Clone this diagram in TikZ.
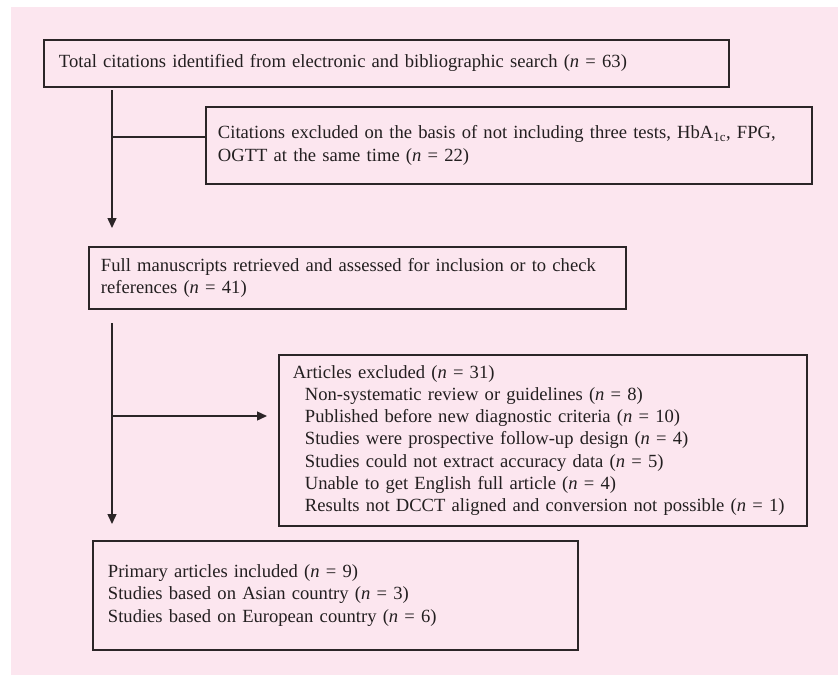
\documentclass[tikz,border=0pt]{standalone}
\usepackage{fontspec}
\setmainfont{Liberation Serif}
\usetikzlibrary{arrows.meta, positioning, calc}
\definecolor{inkpink}{HTML}{FCE6EF}
\definecolor{inkline}{HTML}{2B2527}
\definecolor{inktext}{HTML}{231F20}
\newcommand{\flowbox}[6]{%
  \node[draw=inkline, line width=1.9pt, anchor=north west, align=left,
        inner xsep=#6, inner ysep=0pt, minimum width=#3, minimum height=#4,
        text width={#3-2*#6}, text=inktext] (#1) at (#2) {#5};}
\newcommand{\nn}{\textit{n}}

\begin{document}
\begin{tikzpicture}[x=1pt, y=-1pt, font=\fontsize{18.6}{22.2}\selectfont]
      \fill[white] (0,0) rectangle (838,675);
      \fill[inkpink] (11,7) rectangle (838,675);
      \flowbox{total}{43,39}{685pt}{47pt}{Total citations identified from electronic and bibliographic search (\nn{} = 63)}{15pt}
      \flowbox{excla}{205,106}{606pt}{77pt}{Citations excluded on the basis of not including three tests, HbA\textsubscript{1c}, FPG,\\
        OGTT at the same time (\nn{} = 22)}{12pt}
      \flowbox{full}{88,246}{537pt}{62pt}{Full manuscripts retrieved and assessed for inclusion or to check\\
        references (\nn{} = 41)}{12pt}
      \flowbox{exclb}{278,354}{528pt}{171pt}{Articles excluded (\nn{} = 31)\\
        \hspace*{12pt}Non-systematic review or guidelines (\nn{} = 8)\\
        \hspace*{12pt}Published before new diagnostic criteria (\nn{} = 10)\\
        \hspace*{12pt}Studies were prospective follow-up design (\nn{} = 4)\\
        \hspace*{12pt}Studies could not extract accuracy data (\nn{} = 5)\\
        \hspace*{12pt}Unable to get English full article (\nn{} = 4)\\
        \hspace*{12pt}Results not DCCT aligned and conversion not possible (\nn{} = 1)}{14pt}
      \flowbox{primary}{92,540}{485pt}{109pt}{Primary articles included (\nn{} = 9)\\
        Studies based on Asian country (\nn{} = 3)\\
        Studies based on European country (\nn{} = 6)}{15pt}
      % trunk lines and their forks
      \coordinate (srca) at (112,90);
      \coordinate (tipa) at (112,228);
      \coordinate (forka) at (112,137);
      \coordinate (srcb) at (112,323);
      \coordinate (tipb) at (112,524);
      \coordinate (forkb) at (112,416);
      \coordinate (hitb) at (267,416);
      \draw[-{Triangle[length=10pt, width=9pt]}, inkline, line width=1.4pt] (srca) -- (tipa);
      \draw[inkline, line width=1.4pt] (forka) -- (forka -| excla.west);
      \draw[-{Triangle[length=10pt, width=9pt]}, inkline, line width=1.4pt] (srcb) -- (tipb);
      \draw[-{Triangle[length=10pt, width=9pt]}, inkline, line width=1.4pt] (forkb) -- (hitb);
    \end{tikzpicture}
\end{document}
